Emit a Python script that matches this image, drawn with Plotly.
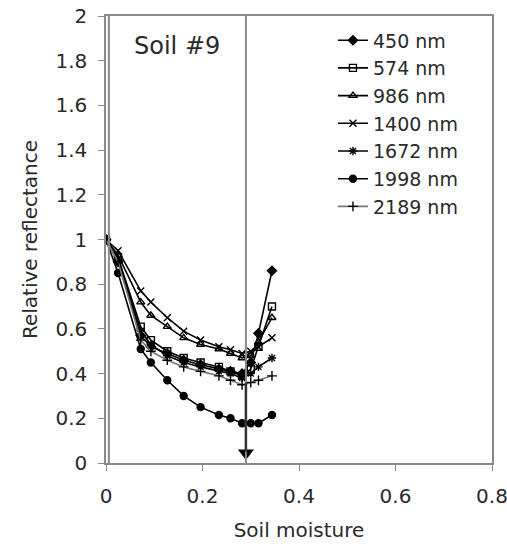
import plotly.graph_objects as go

# Soil moisture sample levels (shared by all wavelengths)
moisture = [0, 0.025, 0.072, 0.093, 0.127, 0.161, 0.196, 0.234, 0.258, 0.282, 0.30, 0.316, 0.344]

series_names = ["450 nm", "574 nm", "986 nm", "1400 nm", "1672 nm", "1998 nm", "2189 nm"]
r450 = [1.0, 0.90, 0.57, 0.52, 0.49, 0.46, 0.44, 0.42, 0.41, 0.40, 0.45, 0.58, 0.86]
r574 = [1.0, 0.92, 0.61, 0.55, 0.50, 0.47, 0.45, 0.43, 0.41, 0.39, 0.42, 0.52, 0.70]
r986 = [1.0, 0.93, 0.72, 0.66, 0.61, 0.56, 0.53, 0.51, 0.49, 0.47, 0.48, 0.54, 0.65]
r1400 = [1.0, 0.95, 0.77, 0.72, 0.65, 0.59, 0.55, 0.52, 0.507, 0.49, 0.50, 0.52, 0.56]
r1672 = [1.0, 0.91, 0.59, 0.53, 0.48, 0.45, 0.43, 0.41, 0.40, 0.38, 0.40, 0.43, 0.47]
r1998 = [1.0, 0.85, 0.51, 0.45, 0.37, 0.30, 0.25, 0.215, 0.20, 0.178, 0.178, 0.178, 0.215]
r2189 = [1.0, 0.90, 0.55, 0.50, 0.46, 0.43, 0.41, 0.39, 0.37, 0.35, 0.36, 0.37, 0.39]
values = [r450, r574, r986, r1400, r1672, r1998, r2189]

symbols = ["diamond", "square-open", "triangle-up-open", "x-thin-open", "asterisk-open", "circle", "cross-thin-open"]
line_colors = ["black", "black", "black", "black", "black", "black", "#777777"]

x_ticks = [0, 0.2, 0.4, 0.6, 0.8]
x_tick_labels = ["0", "0.2", "0.4", "0.6", "0.8"]
y_ticks = [0, 0.2, 0.4, 0.6, 0.8, 1, 1.2, 1.4, 1.6, 1.8, 2]
y_tick_labels = ["0", "0.2", "0.4", "0.6", "0.8", "1", "1.2", "1.4", "1.6", "1.8", "2"]

left_marker_x = 0.006
threshold_x = 0.29

FONT = "DejaVu Sans, Liberation Sans, Arial, sans-serif"
TXT = "#2a2a2a"

fig = go.Figure()
for name, vals, sym, col in zip(series_names, values, symbols, line_colors):
    fig.add_trace(go.Scatter(
        x=moisture, y=vals, mode="lines+markers", name=name,
        line=dict(color=col, width=1.6),
        marker=dict(symbol=sym, size=7, color="black",
                    line=dict(color="black", width=1.4)),
    ))

# vertical reference lines
fig.add_shape(type="line", x0=left_marker_x, x1=left_marker_x, y0=0, y1=2,
              xref="x", yref="y", line=dict(color="#8a8a8a", width=2))
fig.add_shape(type="line", x0=threshold_x, x1=threshold_x, y0=0, y1=2,
              xref="x", yref="y", line=dict(color="#8a8a8a", width=2))
fig.add_shape(type="line", x0=threshold_x, x1=threshold_x, y0=0.05, y1=0.36,
              xref="x", yref="y", line=dict(color="#333333", width=2.5))
fig.add_trace(go.Scatter(x=[threshold_x], y=[0.045], mode="markers",
                         marker=dict(symbol="triangle-down", size=14, color="black"),
                         showlegend=False, hoverinfo="skip"))

fig.add_annotation(x=0.148, y=1.867, xref="x", yref="y", text="Soil #9",
                   showarrow=False, font=dict(size=24, color=TXT, family=FONT))

axis_common = dict(showgrid=False, zeroline=False, showline=True,
                   linecolor="#8a8a8a", linewidth=1.5, mirror=True,
                   ticks="outside", ticklen=6, tickcolor="#8a8a8a",
                   automargin=False, ticklabeloverflow="allow",
                   tickfont=dict(size=20, color=TXT, family=FONT))

fig.update_layout(
    width=507, height=549,
    margin=dict(l=106, r=15, t=16, b=86),
    paper_bgcolor="white", plot_bgcolor="white",
    font=dict(family=FONT, color=TXT),
    xaxis=dict(range=[0, 0.8], tickvals=x_ticks, ticktext=x_tick_labels,
               ticklabelstandoff=8,
               title=dict(text="Soil moisture", font=dict(size=20), standoff=16),
               **axis_common),
    yaxis=dict(range=[0, 2], tickvals=y_ticks, ticktext=y_tick_labels,
               ticklabelstandoff=7,
               title=dict(text="Relative reflectance", font=dict(size=20), standoff=12),
               **axis_common),
    legend=dict(x=0.588, y=0.988, xanchor="left", yanchor="top",
                font=dict(size=19, color=TXT, family=FONT),
                bgcolor="rgba(0,0,0,0)", borderwidth=0,
                itemwidth=30),
    showlegend=True,
)

# remove the browser's default 8px body margin so the figure sits at the window origin
fig.write_html("out.html", config={"displayModeBar": False},
               post_script="document.body.style.margin='0px';")
